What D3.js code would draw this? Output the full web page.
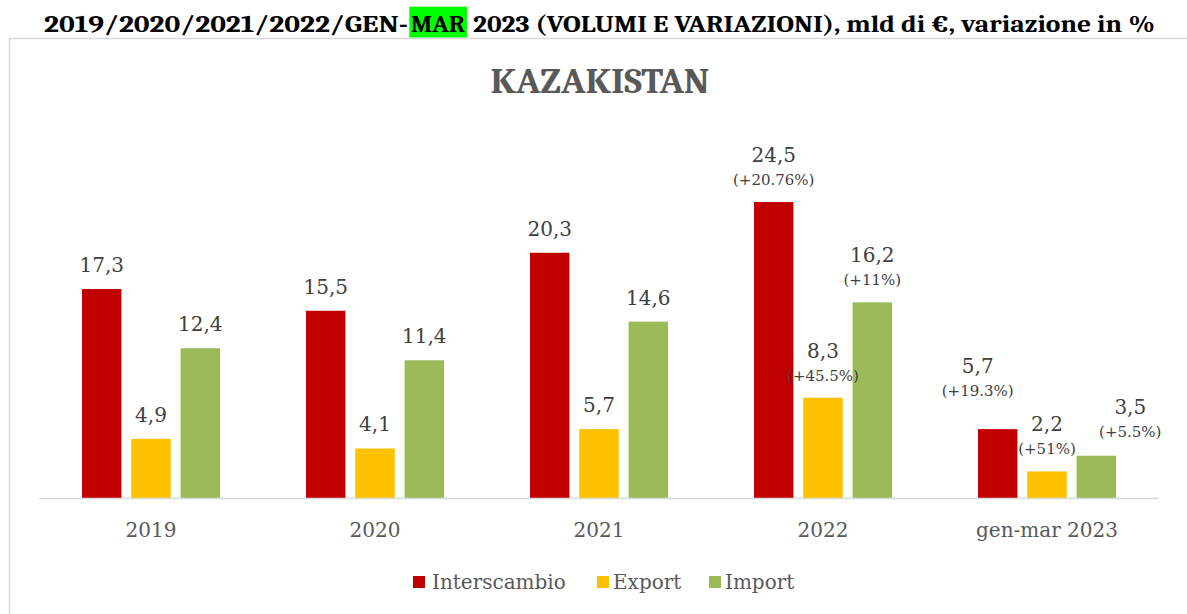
<!DOCTYPE html>
<html>
<head>
<meta charset="utf-8">
<script src="https://cdn.jsdelivr.net/npm/d3@7"></script>
<style>
  html, body { margin: 0; padding: 0; background: #fff; }
  svg { display: block; }
</style>
</head>
<body>
<svg id="chart" width="1187" height="614"></svg>
<script>
// ---- data ----
const categories = ["2019", "2020", "2021", "2022", "gen-mar 2023"];
const seriesNames = ["Interscambio", "Export", "Import"];
const interscambio = [17.3, 15.5, 20.3, 24.5, 5.7];
const exportVals   = [4.9, 4.1, 5.7, 8.3, 2.2];
const importVals   = [12.4, 11.4, 14.6, 16.2, 3.5];
const interscambioVar = [null, null, null, "+20.76%", "+19.3%"];
const exportVar       = [null, null, null, "+45.5%", "+51%"];
const importVar       = [null, null, null, "+11%", "+5.5%"];
const titleParts = ["2019/2020/2021/2022/GEN-", "MAR", "2023 (VOLUMI E VARIAZIONI), mld di €, variazione in %"];
const chartTitle = "KAZAKISTAN";

// ---- styling / layout ----
const colors = ["#C00000", "#FFC000", "#9BBB59"];
const FONT_C = "Cambria, 'DejaVu Serif Condensed', 'DejaVu Serif', serif";
const FONT = "'DejaVu Serif', serif";
// title part placement: [x, textLength]
const titleLayout = [[44, 364], [411, 54], [473, 682]];
// label nudges for last group (manual placement in original)
const labelNudge = {
  "4-0": { dx: -20, dy: -16 },
  "4-2": { dx: 34, dy: -2 }
};

const svg = d3.select("#chart");
const W = 1187, H = 614;

// Chart border (light gray, open to the right and bottom)
svg.append("path")
  .attr("d", "M9.5,614 L9.5,38.5 L1187,38.5")
  .attr("fill", "none").attr("stroke", "#d9d9d9").attr("stroke-width", 1.5);

// Title with highlighted "MAR"
const titleG = svg.append("g");
titleG.append("rect")
  .attr("x", 409.3).attr("y", 6.7).attr("width", 57.7).attr("height", 30.8)
  .attr("fill", "#00FF00");
titleParts.forEach((p, i) => {
  titleG.append("text")
    .attr("x", titleLayout[i][0]).attr("y", 31.5)
    .attr("font-family", FONT_C).attr("font-weight", "bold")
    .attr("font-size", 24).attr("fill", "#000")
    .attr("textLength", titleLayout[i][1]).attr("lengthAdjust", "spacingAndGlyphs")
    .text(p);
});

// Chart title
svg.append("text")
  .attr("x", 600).attr("y", 93)
  .attr("text-anchor", "middle")
  .attr("font-family", FONT_C).attr("font-weight", "bold")
  .attr("font-size", 36).attr("fill", "#595959")
  .attr("textLength", 219).attr("lengthAdjust", "spacingAndGlyphs")
  .text(chartTitle);

// Scales
const x0 = d3.scaleBand().domain(categories).range([39, 1159]).padding(0);
const x1 = d3.scaleBand().domain(seriesNames)
  .range([x0.bandwidth() / 2 - 69, x0.bandwidth() / 2 + 69])
  .paddingInner(0.2).paddingOuter(0);
const y = d3.scaleLinear().domain([0, 30]).range([498, 135.6]);

const seriesVals = [interscambio, exportVals, importVals];
const seriesVar = [interscambioVar, exportVar, importVar];

const rows = [];
categories.forEach((c, i) => {
  seriesNames.forEach((s, j) => {
    rows.push({ cat: c, ci: i, ser: s, si: j, v: seriesVals[j][i], pct: seriesVar[j][i] });
  });
});

// Bars
svg.append("g").selectAll("rect").data(rows).join("rect")
  .attr("x", d => x0(d.cat) + x1(d.ser))
  .attr("y", d => y(d.v))
  .attr("width", x1.bandwidth())
  .attr("height", d => y(0) - y(d.v))
  .attr("fill", d => colors[d.si]);

// Axis (category)
const xAxis = d3.axisBottom(x0).tickSize(0).tickPadding(0);
const axG = svg.append("g").attr("transform", `translate(0,${y(0)})`).call(xAxis);
axG.select(".domain").attr("stroke", "#d9d9d9").attr("stroke-width", 1.5)
  .attr("d", "M39,0.5H1159");
axG.selectAll(".tick text")
  .attr("font-family", FONT).attr("font-size", 20).attr("fill", "#595959")
  .attr("dy", 0).attr("y", 39);

// Value labels
const fmt = v => d3.format(".1f")(v).replace(".", ",");
const lab = svg.append("g").attr("font-family", FONT).attr("text-anchor", "middle");
rows.forEach(d => {
  const nud = labelNudge[d.ci + "-" + d.si] || { dx: 0, dy: 0 };
  const cx = x0(d.cat) + x1(d.ser) + x1.bandwidth() / 2 + nud.dx;
  const top = y(d.v) + nud.dy;
  if (d.pct) {
    lab.append("text").attr("x", cx).attr("y", top - 40)
      .attr("font-size", 20).attr("fill", "#404040").text(fmt(d.v));
    lab.append("text").attr("x", cx).attr("y", top - 17)
      .attr("font-size", 15).attr("fill", "#404040").text("(" + d.pct + ")");
  } else {
    lab.append("text").attr("x", cx).attr("y", top - 17)
      .attr("font-size", 20).attr("fill", "#404040").text(fmt(d.v));
  }
});

// Legend
const legendItems = [
  { name: "Interscambio", sx: 413, tx: 432 },
  { name: "Export", sx: 597, tx: 613 },
  { name: "Import", sx: 709, tx: 725 }
];
const lg = svg.append("g").attr("font-family", FONT);
legendItems.forEach((it, i) => {
  lg.append("rect").attr("x", it.sx).attr("y", 576).attr("width", 12).attr("height", 12)
    .attr("fill", colors[i]);
  lg.append("text").attr("x", it.tx).attr("y", 589)
    .attr("font-size", 20).attr("fill", "#595959").text(it.name);
});
</script>
</body>
</html>
